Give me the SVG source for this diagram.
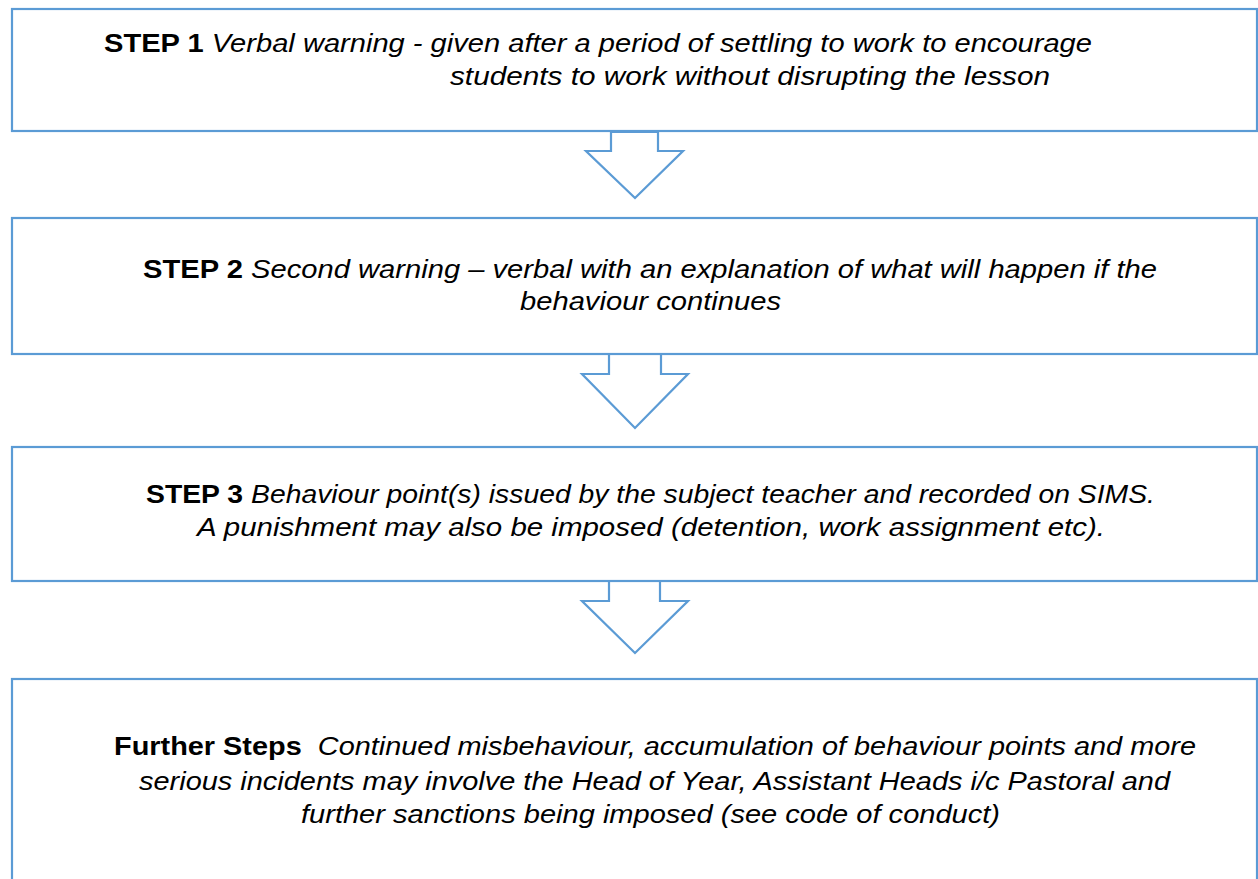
<svg xmlns="http://www.w3.org/2000/svg" width="1258" height="879" viewBox="0 0 1258 879">
<style>
.box{fill:#fff;stroke:#5B9BD5;stroke-width:2.2}
.arr{fill:#fff;stroke:#5B9BD5;stroke-width:2.2;stroke-linejoin:miter}
.t{font-family:"Liberation Sans",Arial,sans-serif;font-size:25px;font-style:italic;fill:#000}
.b{font-weight:bold;font-style:normal}
</style>
<rect width="1258" height="879" fill="#fff"/>
<g id="connectors">
<polygon class="arr" points="611,132 611,151 586,151 635,198 683,151 658,151 658,132"/>
<polygon class="arr" points="609,354 609,374 582,374 635,428 688,374 661,374 661,354"/>
<polygon class="arr" points="609,580 609,601 582,601 635,653 688,601 660,601 660,580"/>
</g>
<g id="step1">
<rect class="box" x="12" y="9" width="1245" height="122"/>
<text class="t" x="104" y="52" textLength="988" lengthAdjust="spacingAndGlyphs"><tspan class="b">STEP 1</tspan> Verbal warning - given after a period of settling to work to encourage</text>
<text class="t" x="450" y="85" textLength="600" lengthAdjust="spacingAndGlyphs">students to work without disrupting the lesson</text>
</g>
<g id="step2">
<rect class="box" x="12" y="218" width="1245" height="136"/>
<text class="t" x="143" y="278" textLength="1014" lengthAdjust="spacingAndGlyphs"><tspan class="b">STEP 2</tspan> Second warning – verbal with an explanation of what will happen if the</text>
<text class="t" x="520" y="310" textLength="261" lengthAdjust="spacingAndGlyphs">behaviour continues</text>
</g>
<g id="step3">
<rect class="box" x="12" y="447" width="1245" height="134"/>
<text class="t" x="146" y="503" textLength="1009" lengthAdjust="spacingAndGlyphs"><tspan class="b">STEP 3</tspan> Behaviour point(s) issued by the subject teacher and recorded on SIMS.</text>
<text class="t" x="197" y="536" textLength="908" lengthAdjust="spacingAndGlyphs">A punishment may also be imposed (detention, work assignment etc).</text>
</g>
<g id="further">
<rect class="box" x="12" y="679" width="1245" height="230"/>
<text class="t" x="114" y="755" textLength="1082" lengthAdjust="spacingAndGlyphs"><tspan class="b">Further Steps</tspan>&#160; Continued misbehaviour, accumulation of behaviour points and more</text>
<text class="t" x="139" y="790" textLength="1031" lengthAdjust="spacingAndGlyphs">serious incidents may involve the Head of Year, Assistant Heads i/c Pastoral and</text>
<text class="t" x="301" y="823" textLength="699" lengthAdjust="spacingAndGlyphs">further sanctions being imposed (see code of conduct)</text>
</g>
</svg>
